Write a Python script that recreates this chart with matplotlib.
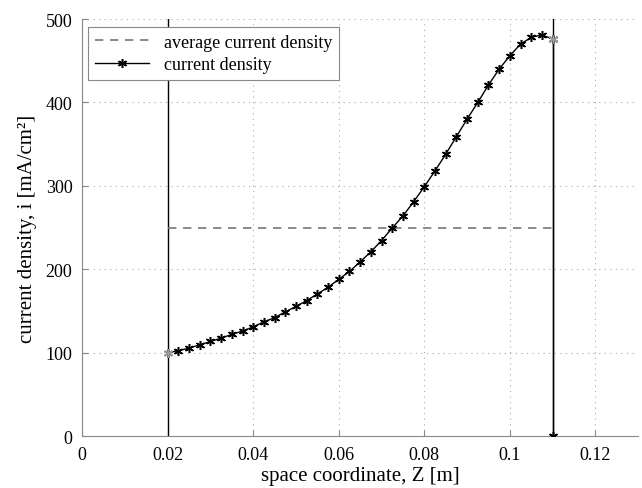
import matplotlib.pyplot as plt

plt.rcParams['font.family'] = ['Liberation Serif', 'DejaVu Serif']

# space coordinate [m] and current density [mA/cm2]
z = [0.02, 0.0225, 0.025, 0.0275, 0.03, 0.0325, 0.035, 0.0375, 0.04, 0.0425,
     0.045, 0.0475, 0.05, 0.0525, 0.055, 0.0575, 0.06, 0.0625, 0.065, 0.0675,
     0.07, 0.0725, 0.075, 0.0775, 0.08, 0.0825, 0.085, 0.0875, 0.09, 0.0925,
     0.095, 0.0975, 0.1, 0.1025, 0.105, 0.1075, 0.11]
i_cd = [100, 102.5, 105.5, 109.5, 113.5, 117.5, 122, 126, 131, 137,
        142, 149, 155.5, 162.5, 170.5, 178.5, 188, 197.5, 209, 221,
        234.5, 249.5, 264, 281, 299, 318, 338, 359, 380, 400,
        421, 440, 456, 470, 478, 481, 476]
z_end = [0.11, 0.11]
i_end = [476, 0]

z_avg = [0.02, 0.11]
i_avg = [249, 249]

z_bounds = [0.02, 0.11]

star = (6, 2, 0)

fig = plt.figure(figsize=(6.42, 4.89), dpi=100)
ax = fig.add_axes([0.128, 0.106, 0.866, 0.853])

for zb in z_bounds:
    ax.plot([zb, zb], [0, 500], color='black', lw=1.0, zorder=3)

ax.plot(z_avg, i_avg, '--', color='#777777', lw=1.2, dashes=(5, 4),
        label='average current density', zorder=4)
ax.plot(z, i_cd, '-', color='black', lw=1.0, marker=star, ms=6.5, mew=1.1,
        mfc='black', mec='black', label='current density', zorder=5)
ax.plot(z_end, i_end, '-', color='black', lw=1.0, marker=star, ms=6.5, mew=1.1,
        mfc='black', mec='black', zorder=5)
ax.plot([z[0], z[-1]], [i_cd[0], i_cd[-1]], ls='none', marker=star, ms=6.5,
        mew=1.1, mfc='#999999', mec='#999999', zorder=6)

ax.set_xlim(0, 0.13)
ax.set_ylim(0, 500)
ax.set_xticks([0, 0.02, 0.04, 0.06, 0.08, 0.1, 0.12])
ax.set_xticklabels(['0', '0.02', '0.04', '0.06', '0.08', '0.1', '0.12'])
ax.set_yticks([0, 100, 200, 300, 400, 500])
ax.tick_params(direction='in', length=4, color='#888888', labelsize=13, pad=7)
ax.grid(True, ls=(0, (1, 4)), color='#aaaaaa', lw=0.8)

for s in ['top', 'right']:
    ax.spines[s].set_visible(False)
for s in ['left', 'bottom']:
    ax.spines[s].set_color('#888888')

ax.set_xlabel('space coordinate, Z [m]', fontsize=15, labelpad=2)
ax.set_ylabel('current density, i [mA/cm²]', fontsize=15, labelpad=6)

leg = ax.legend(loc='upper left', fontsize=13, fancybox=False, framealpha=1,
                edgecolor='#888888', bbox_to_anchor=(0.01, 0.982),
                borderaxespad=0, handlelength=3, borderpad=0.4,
                labelspacing=0.3)
leg.get_frame().set_linewidth(0.8)

fig.savefig('out.png', dpi=100)
